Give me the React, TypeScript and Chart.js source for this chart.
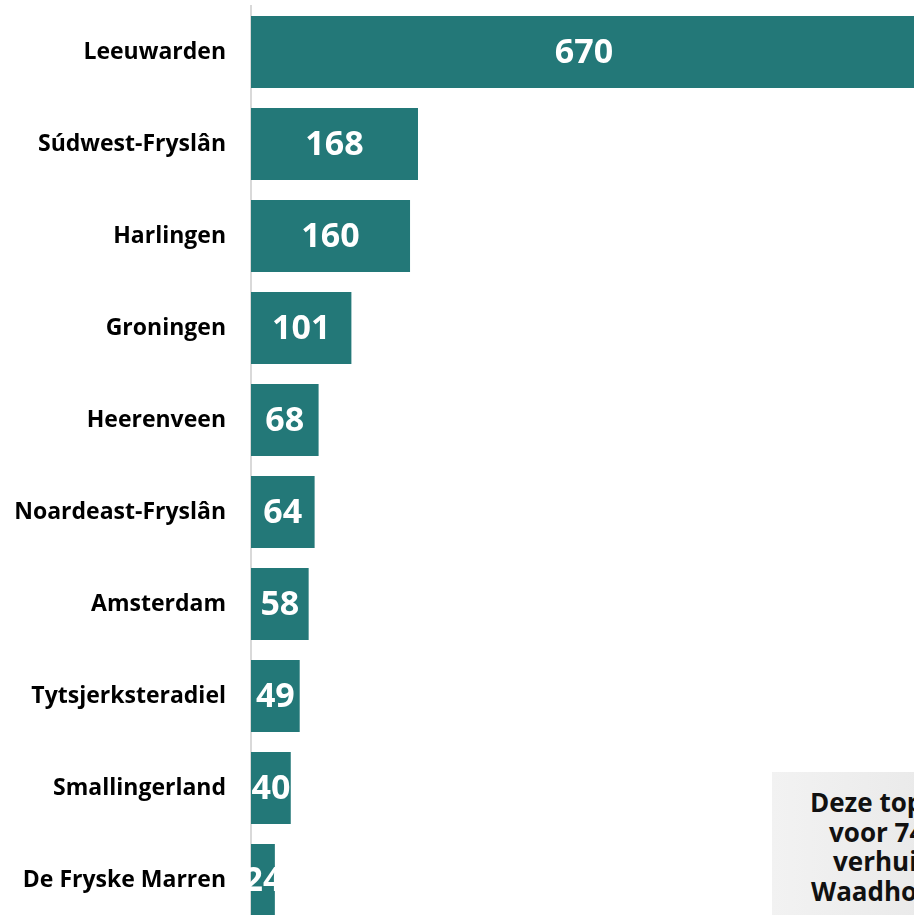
import React, { useEffect, useRef } from "react";
import { Chart, registerables } from "chart.js";

Chart.register(...registerables);

const categories = [
  "Leeuwarden",
  "Súdwest-Fryslân",
  "Harlingen",
  "Groningen",
  "Heerenveen",
  "Noardeast-Fryslân",
  "Amsterdam",
  "Tytsjerksteradiel",
  "Smallingerland",
  "De Fryske Marren",
];
const values = [670, 168, 160, 101, 68, 64, 58, 49, 40, 24];
const noteLines = ["Deze top 10 is goed", "voor 74% van alle", "verhuizingen uit", "Waadhoeke"];
const noteIndent = [38, 57, 61, 39];

const BAR_COLOR = "#237878";
const FONT = "'Open Sans', sans-serif";

const valueLabels = {
  id: "valueLabels",
  afterDatasetsDraw(chart: any) {
    const ctx = chart.ctx;
    const meta = chart.getDatasetMeta(0);
    ctx.save();
    ctx.fillStyle = "#ffffff";
    ctx.font = `bold 34px ${FONT}`;
    ctx.textAlign = "center";
    ctx.textBaseline = "middle";
    meta.data.forEach((bar: any, i: number) => {
      const x = (bar.x + bar.base) / 2;
      ctx.fillText(String(values[i]), x, bar.y + 1);
    });
    ctx.restore();
  },
};

export default function App() {
  const ref = useRef<HTMLCanvasElement>(null);
  useEffect(() => {
    document.body.style.margin = "0";
    const chart = new Chart(ref.current!, {
      type: "bar",
      data: {
        labels: categories,
        datasets: [
          {
            data: values,
            backgroundColor: BAR_COLOR,
            borderWidth: 0,
            barPercentage: 1,
            categoryPercentage: 72 / 92,
          },
        ],
      },
      options: {
        indexAxis: "y",
        animation: false,
        responsive: false,
        maintainAspectRatio: false,
        layout: { padding: { top: 6, bottom: 4, left: 0, right: 0 } },
        plugins: { legend: { display: false }, tooltip: { enabled: false } },
        scales: {
          x: { display: false, min: 0, max: 667 },
          y: {
            afterFit(scale: any) {
              scale.width = 251;
              scale.paddingTop = 0;
              scale.paddingBottom = 0;
            },
            grid: { display: false, drawTicks: true, tickLength: 25, tickColor: "rgba(0,0,0,0)" },
            border: { display: true, color: "#d9d9d9", width: 2 },
            ticks: {
              padding: 0,
              color: "#000000",
              font: { family: FONT, weight: "bold", size: 23, lineHeight: 0.4 },
            },
          },
        },
      },
      plugins: [valueLabels],
    });
    return () => chart.destroy();
  }, []);

  return (
    <div style={{ position: "absolute", left: 0, top: 0, width: 914, height: 915, overflow: "hidden", background: "#fff" }}>
      <canvas ref={ref} width={914} height={930} style={{ display: "block" }} />
      <div
        style={{
          position: "absolute",
          left: 772,
          top: 772,
          width: 300,
          height: 160,
          background: "linear-gradient(to right, #f2f2f2, #e2e2e2)",
          fontFamily: FONT,
          fontWeight: "bold",
          fontSize: 26,
          lineHeight: "29.5px",
          color: "#111",
          paddingTop: 16,
          boxSizing: "border-box",
        }}
      >
        {noteLines.map((l, i) => (
          <div key={i} style={{ whiteSpace: "nowrap", marginLeft: noteIndent[i] }}>{l}</div>
        ))}
      </div>
    </div>
  );
}
